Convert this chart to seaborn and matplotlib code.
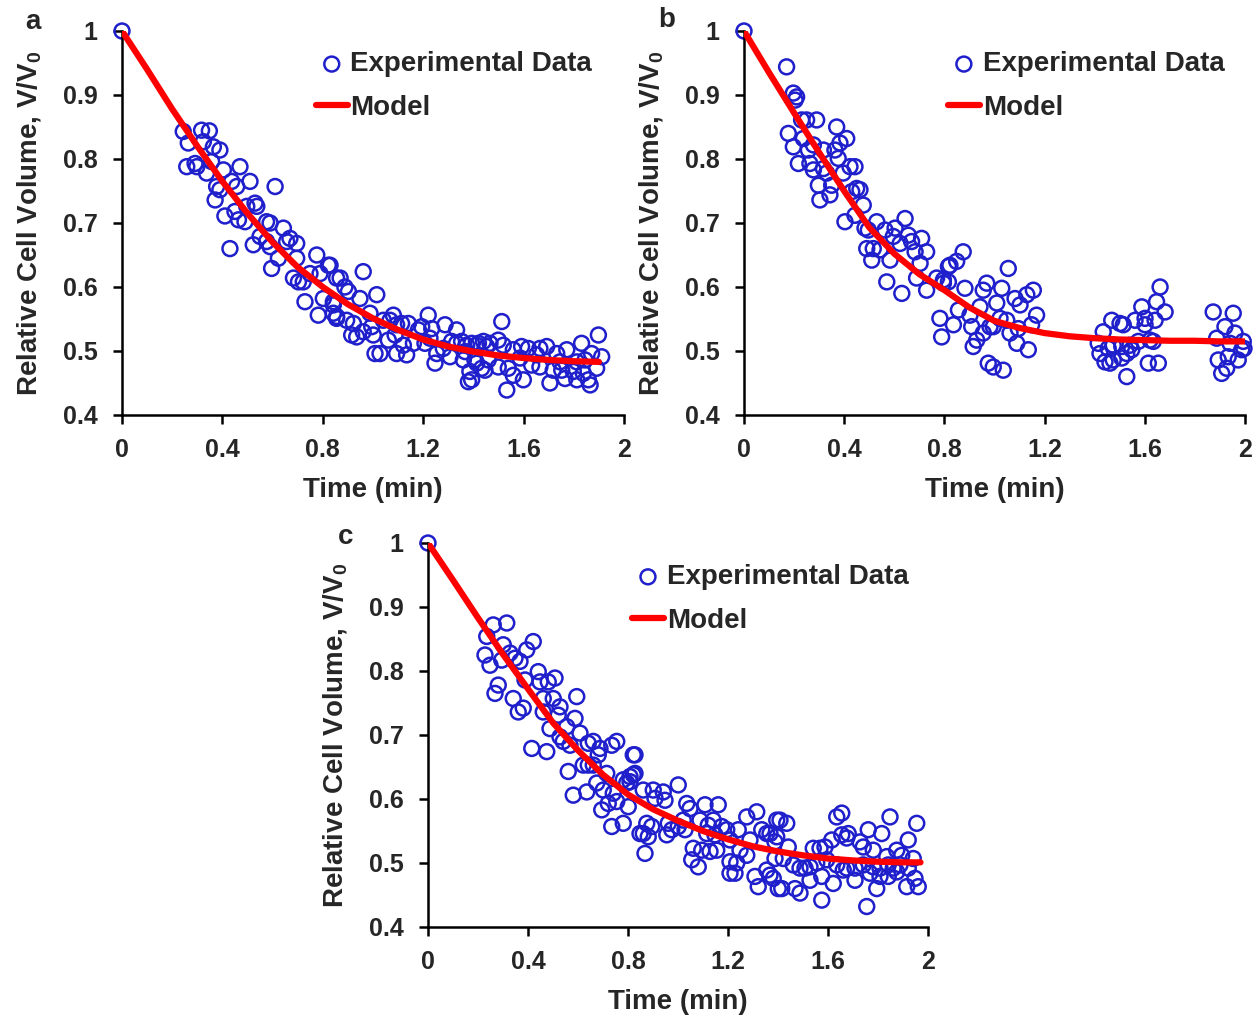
import matplotlib
matplotlib.use("Agg")
import matplotlib.pyplot as plt
import seaborn as sns
import pandas as pd

# ---------------- panel a ----------------
a_time = [0.0,
    0.244, 0.264, 0.317, 0.348, 0.324, 0.364, 0.390, 0.258, 0.291, 0.298, 0.337, 0.357, 0.404, 0.470,
    0.377, 0.390, 0.437, 0.457, 0.510, 0.610, 0.371, 0.410, 0.450, 0.464, 0.490, 0.497, 0.530, 0.537,
    0.576, 0.590, 0.643, 0.430, 0.523, 0.550, 0.576, 0.590, 0.656, 0.669, 0.696, 0.623, 0.596, 0.696,
    0.776, 0.822, 0.683, 0.703, 0.722, 0.749, 0.789, 0.855, 0.729, 0.802, 0.842, 0.782, 0.842, 0.855,
    0.829, 0.869, 0.961, 0.888, 0.902, 0.948, 1.015, 0.842, 0.855, 0.895, 0.922, 0.915, 0.935, 0.961,
    0.988, 0.995, 1.001, 1.008, 1.028, 1.041, 1.068, 1.081, 1.094, 1.114, 1.141, 1.088, 1.061, 1.094,
    1.121, 1.134, 1.161, 1.181, 1.194, 1.220, 1.234, 1.207, 1.227, 1.254, 1.247, 1.280, 1.287, 1.333,
    1.307, 1.313, 1.333, 1.353, 1.373, 1.367, 1.360, 1.386, 1.380, 1.406, 1.413, 1.440, 1.453, 1.433,
    1.459, 1.513, 1.898, 1.393, 1.420, 1.466, 1.499, 1.519, 1.559, 1.592, 1.619, 1.665, 1.692, 1.732,
    1.772, 1.831, 1.871, 1.911, 1.413, 1.446, 1.499, 1.539, 1.559, 1.599, 1.632, 1.665, 1.705, 1.718,
    1.752, 1.765, 1.798, 1.812, 1.838, 1.858, 1.865, 1.891, 1.533, 1.393, 1.586, 1.652, 1.745, 1.812,
    1.845]
a_volume = [1.0,
    0.843, 0.825, 0.845, 0.844, 0.827, 0.819, 0.814, 0.788, 0.793, 0.788, 0.778, 0.796, 0.783, 0.788,
    0.757, 0.752, 0.765, 0.757, 0.765, 0.757, 0.736, 0.711, 0.718, 0.705, 0.702, 0.726, 0.731, 0.726,
    0.702, 0.700, 0.692, 0.660, 0.666, 0.679, 0.671, 0.663, 0.671, 0.676, 0.668, 0.645, 0.629, 0.645,
    0.650, 0.634, 0.614, 0.608, 0.608, 0.621, 0.621, 0.614, 0.577, 0.582, 0.577, 0.556, 0.559, 0.551,
    0.634, 0.614, 0.624, 0.600, 0.593, 0.582, 0.588, 0.572, 0.554, 0.548, 0.543, 0.525, 0.522, 0.530,
    0.559, 0.538, 0.525, 0.496, 0.496, 0.548, 0.548, 0.556, 0.541, 0.543, 0.543, 0.525, 0.517, 0.496,
    0.509, 0.494, 0.512, 0.533, 0.538, 0.556, 0.535, 0.512, 0.520, 0.496, 0.481, 0.504, 0.541, 0.533,
    0.491, 0.515, 0.512, 0.515, 0.509, 0.499, 0.486, 0.468, 0.452, 0.486, 0.509, 0.515, 0.507, 0.473,
    0.486, 0.546, 0.525, 0.512, 0.512, 0.512, 0.517, 0.509, 0.502, 0.507, 0.504, 0.504, 0.507, 0.496,
    0.502, 0.512, 0.496, 0.491, 0.481, 0.470, 0.475, 0.473, 0.462, 0.455, 0.478, 0.475, 0.450, 0.470,
    0.470, 0.457, 0.468, 0.455, 0.465, 0.455, 0.447, 0.473, 0.439, 0.455, 0.489, 0.494, 0.483, 0.483,
    0.486]
a_model_time = [0.0, 0.1, 0.2, 0.3, 0.4, 0.5, 0.6, 0.7, 0.8, 0.9, 1.0, 1.1, 1.2, 1.3, 1.4, 1.5, 1.6, 1.7, 1.8, 1.9]
a_model_volume = [1.0, 0.940, 0.878, 0.820, 0.765, 0.715, 0.670, 0.631, 0.600, 0.573, 0.551, 0.533,
                  0.518, 0.507, 0.499, 0.493, 0.489, 0.486, 0.484, 0.483]

# ---------------- panel b ----------------
b_time = [0.0,
    0.170, 0.197, 0.210, 0.204, 0.230, 0.250, 0.290, 0.370, 0.177, 0.197, 0.237, 0.257, 0.277, 0.317,
    0.217, 0.263, 0.277, 0.317, 0.330, 0.363, 0.383, 0.410, 0.376, 0.396, 0.423, 0.443, 0.297, 0.350,
    0.303, 0.343, 0.450, 0.463, 0.430, 0.476, 0.403, 0.443, 0.483, 0.496, 0.530, 0.643, 0.563, 0.603,
    0.490, 0.516, 0.543, 0.510, 0.583, 0.596, 0.623, 0.656, 0.669, 0.709, 0.683, 0.729, 0.703, 0.570,
    0.630, 0.689, 0.729, 0.769, 0.796, 0.816,
    0.875, 0.849, 0.822, 0.796, 0.816, 0.882, 0.969, 0.955, 1.029, 1.055, 1.082, 1.102, 1.129, 1.155,
    0.782, 0.836, 0.856, 0.902, 0.909, 0.942, 1.009, 0.955, 0.929, 0.915, 0.982, 0.995, 1.022, 1.049,
    1.062, 1.095, 1.089, 1.135, 1.168, 1.148, 0.789, 0.975, 0.995, 1.035,
    1.661, 1.647, 1.681, 1.588, 1.561, 1.601, 1.641, 1.468, 1.501, 1.514, 1.434, 1.414, 1.421, 1.441,
    1.461, 1.474, 1.508, 1.528, 1.548, 1.574, 1.621, 1.634, 1.528, 1.614, 1.654, 1.601, 1.474, 1.508,
    1.541, 1.454, 1.873, 1.953, 1.920, 1.960, 1.887, 1.940, 1.993, 1.996, 1.893, 1.933, 1.973, 1.907,
    1.927, 1.987]
b_volume = [1.0,
    0.944, 0.903, 0.897, 0.892, 0.861, 0.861, 0.861, 0.850, 0.840, 0.819, 0.832, 0.814, 0.822, 0.814,
    0.793, 0.793, 0.783, 0.785, 0.778, 0.814, 0.825, 0.832, 0.801, 0.778, 0.788, 0.788, 0.759, 0.759,
    0.736, 0.744, 0.754, 0.752, 0.749, 0.728, 0.702, 0.712, 0.692, 0.689, 0.702, 0.707, 0.689, 0.692,
    0.660, 0.660, 0.658, 0.642, 0.642, 0.679, 0.668, 0.681, 0.671, 0.676, 0.655, 0.655, 0.637, 0.608,
    0.590, 0.614, 0.595, 0.614, 0.606, 0.632,
    0.655, 0.640, 0.634, 0.611, 0.608, 0.598, 0.606, 0.595, 0.598, 0.629, 0.582, 0.572, 0.588, 0.595,
    0.551, 0.541, 0.564, 0.556, 0.538, 0.569, 0.575, 0.528, 0.517, 0.507, 0.538, 0.538, 0.551, 0.548,
    0.528, 0.535, 0.512, 0.502, 0.556, 0.541, 0.522, 0.481, 0.475, 0.470,
    0.600, 0.577, 0.561, 0.569, 0.548, 0.551, 0.548, 0.548, 0.543, 0.541, 0.530, 0.512, 0.496, 0.483,
    0.481, 0.486, 0.489, 0.496, 0.502, 0.515, 0.517, 0.515, 0.460, 0.481, 0.481, 0.541, 0.509, 0.507,
    0.509, 0.504, 0.561, 0.559, 0.538, 0.528, 0.520, 0.512, 0.515, 0.504, 0.486, 0.491, 0.486, 0.465,
    0.473, 0.502]
b_model_time = [0.0, 0.1, 0.2, 0.3, 0.4, 0.5, 0.6, 0.7, 0.8, 0.9, 1.0, 1.1, 1.2, 1.3, 1.4, 1.5, 1.6, 1.7, 1.8, 1.9, 2.0]
b_model_volume = [1.0, 0.935, 0.872, 0.810, 0.750, 0.693, 0.652, 0.620, 0.595, 0.568, 0.547, 0.536,
                  0.528, 0.523, 0.520, 0.518, 0.517, 0.516, 0.516, 0.515, 0.515]

# ---------------- panel c ----------------
c_time = [0.0,
    0.261, 0.315, 0.235, 0.301, 0.228, 0.248, 0.295, 0.328, 0.348, 0.368, 0.395, 0.421, 0.441, 0.448,
    0.481, 0.508, 0.388, 0.281, 0.268, 0.341, 0.381, 0.361, 0.461, 0.501, 0.528, 0.521, 0.595, 0.461,
    0.488, 0.555, 0.588, 0.528, 0.541, 0.568, 0.608, 0.641, 0.661, 0.688, 0.681, 0.735, 0.755, 0.821,
    0.415, 0.475, 0.561, 0.621, 0.641, 0.661, 0.715, 0.781, 0.808, 0.828, 0.795, 0.581, 0.635, 0.675,
    0.701, 0.741, 0.755, 0.721, 0.801, 0.695, 0.735, 0.781, 0.848,
    0.828, 0.821, 0.808, 0.861, 0.901, 0.941, 0.908, 0.948, 1.001, 1.035, 1.048, 1.108, 1.161, 0.875,
    0.895, 0.861, 0.881, 0.868, 0.961, 0.955, 0.975, 1.001, 1.021, 1.028, 1.088, 1.121, 1.141, 1.175,
    1.195, 1.115, 1.148, 1.061, 1.095, 1.128, 1.155, 1.055, 1.081, 1.208, 1.241, 1.275, 1.315, 1.288,
    1.335, 1.355, 1.395, 1.395, 1.248, 1.275, 1.208, 1.235, 1.208, 1.228, 1.308, 1.355, 1.368, 1.321,
    1.388, 1.401,
    1.408, 1.435, 1.635, 1.655, 1.848, 1.955, 1.368, 1.388, 1.441, 1.541, 1.568, 1.588, 1.615, 1.655,
    1.681, 1.675, 1.728, 1.741, 1.761, 1.815, 1.781, 1.835, 1.875, 1.895, 1.921, 1.941, 1.421, 1.461,
    1.488, 1.508, 1.528, 1.555, 1.595, 1.635, 1.675, 1.708, 1.741, 1.781, 1.808, 1.841, 1.861, 1.888,
    1.921, 1.381, 1.415, 1.468, 1.488, 1.528, 1.575, 1.621, 1.661, 1.708, 1.768, 1.795, 1.808, 1.841,
    1.875, 1.915, 1.948, 1.961, 1.575, 1.755]
c_volume = [1.0,
    0.872, 0.875, 0.854, 0.841, 0.825, 0.809, 0.817, 0.828, 0.820, 0.815, 0.833, 0.846, 0.799, 0.783,
    0.783, 0.789, 0.786, 0.778, 0.765, 0.757, 0.742, 0.736, 0.757, 0.757, 0.744, 0.731, 0.760, 0.736,
    0.710, 0.713, 0.726, 0.697, 0.690, 0.684, 0.703, 0.687, 0.690, 0.679, 0.669, 0.684, 0.690, 0.669,
    0.679, 0.674, 0.643, 0.653, 0.653, 0.653, 0.640, 0.630, 0.635, 0.640, 0.625, 0.606, 0.611, 0.625,
    0.614, 0.609, 0.596, 0.593, 0.588, 0.583, 0.557, 0.562, 0.546,
    0.669, 0.638, 0.627, 0.614, 0.614, 0.611, 0.601, 0.598, 0.622, 0.593, 0.585, 0.591, 0.591, 0.562,
    0.557, 0.546, 0.541, 0.515, 0.562, 0.544, 0.552, 0.557, 0.567, 0.552, 0.567, 0.559, 0.567, 0.557,
    0.552, 0.546, 0.544, 0.523, 0.520, 0.518, 0.520, 0.505, 0.494, 0.536, 0.552, 0.572, 0.580, 0.536,
    0.552, 0.546, 0.567, 0.541, 0.520, 0.512, 0.502, 0.500, 0.484, 0.484, 0.479, 0.489, 0.481, 0.463,
    0.507, 0.460,
    0.567, 0.562, 0.572, 0.578, 0.572, 0.562, 0.546, 0.533, 0.525, 0.523, 0.523, 0.525, 0.536, 0.544,
    0.546, 0.539, 0.533, 0.525, 0.552, 0.546, 0.520, 0.510, 0.520, 0.512, 0.536, 0.507, 0.507, 0.497,
    0.492, 0.492, 0.494, 0.500, 0.505, 0.497, 0.492, 0.492, 0.497, 0.494, 0.492, 0.497, 0.492, 0.497,
    0.492, 0.476, 0.460, 0.460, 0.453, 0.473, 0.479, 0.468, 0.489, 0.473, 0.484, 0.460, 0.479, 0.479,
    0.486, 0.463, 0.476, 0.463, 0.442, 0.432]
c_model_time = [0.0, 0.1, 0.2, 0.3, 0.4, 0.5, 0.6, 0.7, 0.8, 0.9, 1.0, 1.1, 1.2, 1.3, 1.4, 1.5, 1.6, 1.7, 1.8, 1.9, 1.97]
c_model_volume = [1.0, 0.942, 0.883, 0.826, 0.772, 0.719, 0.676, 0.638, 0.607, 0.584, 0.566, 0.550,
                  0.537, 0.526, 0.518, 0.512, 0.507, 0.504, 0.502, 0.501, 0.501]

x_ticks = [0, 0.4, 0.8, 1.2, 1.6, 2]
x_tick_labels = ["0", "0.4", "0.8", "1.2", "1.6", "2"]
y_ticks = [0.4, 0.5, 0.6, 0.7, 0.8, 0.9, 1.0]
y_tick_labels = ["0.4", "0.5", "0.6", "0.7", "0.8", "0.9", "1"]

sns.set_theme(style="ticks")
plt.rcParams["font.family"] = ["Liberation Sans", "DejaVu Sans"]
plt.rcParams["font.weight"] = "bold"
plt.rcParams["axes.labelweight"] = "bold"
plt.rcParams["mathtext.fontset"] = "custom"
plt.rcParams["mathtext.rm"] = "Liberation Sans:bold"
plt.rcParams["mathtext.it"] = "Liberation Sans:bold"
plt.rcParams["mathtext.bf"] = "Liberation Sans:bold"

DOT_COLOR = "#1f1fcc"
LINE_COLOR = "#ff0000"
TICK_FS = 18
LABEL_FS = 20

fig = plt.figure(figsize=(12.57, 10.16), dpi=100)

# letter, data, model, axes rect, letter position, legend anchor
panels = [
    ("a", a_time, a_volume, a_model_time, a_model_volume,
     [122 / 1257, 1 - 415 / 1016, 502 / 1257, 384 / 1016], (-0.177, 1.023), (0.386, 0.947)),
    ("b", b_time, b_volume, b_model_time, b_model_volume,
     [744 / 1257, 1 - 415 / 1016, 501 / 1257, 384 / 1016], (-0.154, 1.029), (0.407, 0.947)),
    ("c", c_time, c_volume, c_model_time, c_model_volume,
     [428 / 1257, 1 - 927 / 1016, 500 / 1257, 384 / 1016], (-0.164, 1.016), (0.408, 0.945)),
]

for letter, t, v, mt, mv, rect, letter_xy, leg_xy in panels:
    ax = fig.add_axes(rect)
    data = pd.DataFrame({"t": t, "v": v})
    model = pd.DataFrame({"t": mt, "v": mv})
    sns.scatterplot(data=data, x="t", y="v", ax=ax, marker="o", s=115,
                    facecolor="none", edgecolor=DOT_COLOR, linewidth=1.8,
                    label="Experimental Data", clip_on=False, zorder=2)
    sns.lineplot(data=model, x="t", y="v", ax=ax, color=LINE_COLOR, lw=4.5,
                 label="Model", sort=True, estimator=None, zorder=3)
    ax.set_xlim(0, 2)
    ax.set_ylim(0.4, 1.0)
    ax.set_xticks(x_ticks)
    ax.set_xticklabels(x_tick_labels)
    ax.set_yticks(y_ticks)
    ax.set_yticklabels(y_tick_labels)
    ax.tick_params(axis="both", direction="out", length=6.5, width=1.8, color="black",
                   labelsize=TICK_FS)
    ax.tick_params(axis="x", pad=10)
    ax.tick_params(axis="y", pad=11)
    for lab in ax.get_xticklabels() + ax.get_yticklabels():
        lab.set_fontweight("bold")
    for side in ("top", "right"):
        ax.spines[side].set_visible(False)
    for side in ("left", "bottom"):
        ax.spines[side].set_linewidth(1.8)
        ax.spines[side].set_color("black")
    ax.set_xlabel("Time (min)", fontsize=LABEL_FS, fontweight="bold", labelpad=11)
    ax.set_ylabel(r"Relative Cell Volume, V/V$_0$", fontsize=LABEL_FS, fontweight="bold", labelpad=14)
    ax.legend(loc="upper left", bbox_to_anchor=leg_xy, frameon=False,
              prop={"weight": "bold", "size": LABEL_FS}, handlelength=1.15,
              handletextpad=0.1, labelspacing=0.63, borderpad=0, borderaxespad=0)
    ax.text(letter_xy[0], letter_xy[1], letter, transform=ax.transAxes, fontsize=LABEL_FS,
            fontweight="bold", ha="center", va="center")

fig.savefig("out.png", dpi=100)
